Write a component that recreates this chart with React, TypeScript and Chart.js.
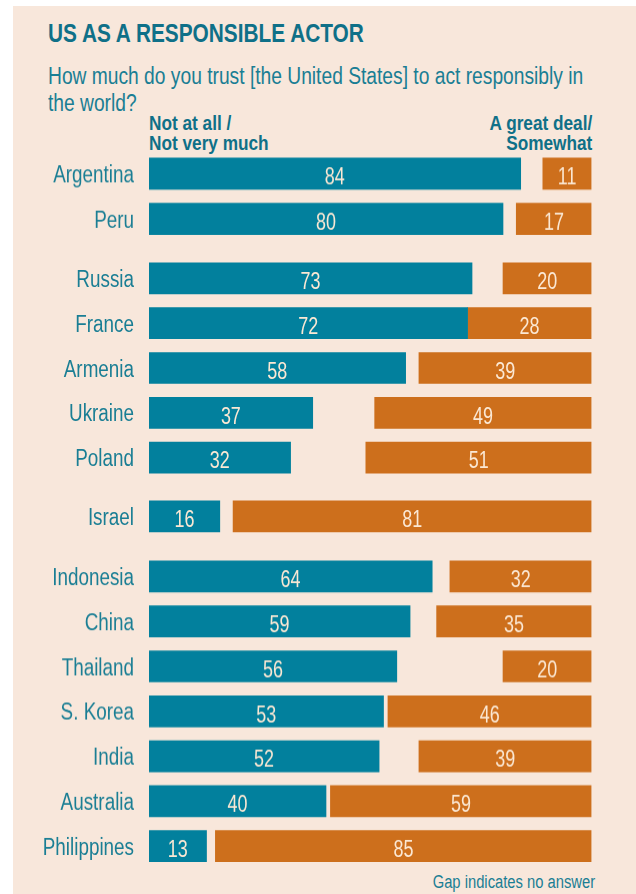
import { useEffect, useRef } from 'react'
import { Chart, registerables } from 'chart.js'

Chart.register(...registerables)

// survey rows, top to bottom
const countries = [
  'Argentina', 'Peru',
  'Russia', 'France', 'Armenia', 'Ukraine', 'Poland',
  'Israel',
  'Indonesia', 'China', 'Thailand', 'S. Korea', 'India', 'Australia', 'Philippines',
]
const notTrust = [84, 80, 73, 72, 58, 37, 32, 16, 64, 59, 56, 53, 52, 40, 13]
const trust = [11, 17, 20, 28, 39, 49, 51, 81, 32, 35, 20, 46, 39, 59, 85]
// how many rows in each block (blocks are separated by a gap)
const groupSizes = [2, 5, 1, 7]

// no narrow font installed, so squeeze Liberation Sans horizontally
const FONT = '"Liberation Sans", Arial, sans-serif'
const SQUEEZE = 0.82
const TEAL = '#02809D'
const ORANGE = '#CD6F1C'
const TEXT_TEAL = '#1A7E94'
const DARK_TEAL = '#0F7088'
const BG = '#F8E7DB'
const ROW_H = 44.8

const narrowText = {
  id: 'narrowText',
  afterDatasetsDraw(chart: Chart) {
    const { ctx } = chart
    ctx.save()

    // values inside bars
    ctx.font = `23px ${FONT}`
    ctx.fillStyle = '#FBE8D4'
    ctx.textAlign = 'center'
    ctx.textBaseline = 'alphabetic'
    chart.data.datasets.forEach((ds, di) => {
      const meta = chart.getDatasetMeta(di)
      meta.data.forEach((bar: any, i: number) => {
        const raw = ds.data[i] as unknown as number[]
        const v = Math.round(raw[1] - raw[0])
        const { x, base, y } = bar.getProps(['x', 'base', 'y'], true)
        ctx.save()
        ctx.translate((x + base) / 2, y + 10.7)
        ctx.scale(0.78, 1)
        ctx.fillText(String(v), 0, 0)
        ctx.restore()
      })
    })

    // country names on the category axis
    const yScale = chart.scales.y
    ctx.font = `23px ${FONT}`
    ctx.fillStyle = TEXT_TEAL
    ctx.textAlign = 'right'
    const labels = chart.data.labels as string[]
    labels.forEach((name, i) => {
      const y = yScale.getPixelForTick(i)
      ctx.save()
      ctx.translate(yScale.right - 15, y + 8.5)
      ctx.scale(SQUEEZE, 1)
      ctx.fillText(name, 0, 0)
      ctx.restore()
    })

    ctx.restore()
  },
}

function BarBlock({ start, count }: { start: number; count: number }) {
  const canvasRef = useRef<HTMLCanvasElement>(null)

  useEffect(() => {
    if (!canvasRef.current) return
    const labels = countries.slice(start, start + count)
    const left = notTrust.slice(start, start + count)
    const right = trust.slice(start, start + count)

    const chart = new Chart(canvasRef.current, {
      type: 'bar',
      data: {
        labels,
        datasets: [
          {
            label: 'Not at all / Not very much',
            data: left.map(v => [0, v]) as any,
            backgroundColor: TEAL,
            grouped: false,
            barThickness: 31,
          },
          {
            label: 'A great deal / Somewhat',
            data: right.map(v => [100 - v, 100]) as any,
            backgroundColor: ORANGE,
            grouped: false,
            barThickness: 31,
          },
        ],
      },
      options: {
        indexAxis: 'y',
        animation: false,
        responsive: true,
        maintainAspectRatio: false,
        layout: { autoPadding: false, padding: { left: 0, right: 44.5, top: 0, bottom: 0 } },
        plugins: {
          legend: { display: false },
          tooltip: { enabled: false },
        },
        scales: {
          x: { min: 0, max: 100, display: false },
          y: {
            grid: { display: false, drawTicks: false },
            border: { display: false },
            ticks: { display: false },
            afterFit: (scale: any) => {
              scale.width = 149
            },
          },
        },
      },
      plugins: [narrowText],
    })

    return () => chart.destroy()
  }, [start, count])

  return (
    <div style={{ position: 'relative', width: 636, height: count * ROW_H }}>
      <canvas ref={canvasRef} />
    </div>
  )
}

function Squeezed({ style, right, children }: { style: any; right?: boolean; children: any }) {
  return (
    <div
      style={{
        position: 'absolute',
        whiteSpace: 'nowrap',
        transform: `scaleX(${SQUEEZE})`,
        transformOrigin: right ? 'right top' : 'left top',
        textAlign: right ? 'right' : 'left',
        ...style,
      }}
    >
      {children}
    </div>
  )
}

export default function App() {
  const starts = groupSizes.map((_, i) => groupSizes.slice(0, i).reduce((a, b) => a + b, 0))
  const gaps = [0, 15, 14, 16]

  return (
    <div
      style={{
        position: 'absolute',
        left: 0,
        top: 0,
        width: 636,
        height: 894,
        background: '#fff',
        overflow: 'hidden',
        fontFamily: FONT,
      }}
    >
      <div style={{ position: 'absolute', left: 13, top: 6, right: 0, bottom: 0, background: BG }} />

      <Squeezed
        style={{ left: 48, top: 21, fontSize: 25.4, lineHeight: '25.4px', fontWeight: 700, color: DARK_TEAL }}
      >
        US AS A RESPONSIBLE ACTOR
      </Squeezed>

      <Squeezed style={{ left: 48, top: 63.3, fontSize: 23.45, lineHeight: '27px', color: TEXT_TEAL }}>
        How much do you trust [the United States] to act responsibly in
        <br />
        the world?
      </Squeezed>

      <Squeezed
        style={{ left: 149, top: 112.5, fontSize: 21, lineHeight: '20.5px', fontWeight: 700, color: DARK_TEAL }}
      >
        Not at all /
        <br />
        Not very much
      </Squeezed>

      <Squeezed
        right
        style={{ right: 44, top: 112.5, fontSize: 21, lineHeight: '20.5px', fontWeight: 700, color: DARK_TEAL }}
      >
        A great deal/
        <br />
        Somewhat
      </Squeezed>

      <div style={{ position: 'absolute', left: 0, top: 151 }}>
        {groupSizes.map((n, i) => (
          <div key={i} style={{ marginTop: gaps[i] }}>
            <BarBlock start={starts[i]} count={n} />
          </div>
        ))}
      </div>

      <Squeezed right style={{ right: 41, top: 873, fontSize: 18, lineHeight: '18px', color: TEXT_TEAL }}>
        Gap indicates no answer
      </Squeezed>
    </div>
  )
}
